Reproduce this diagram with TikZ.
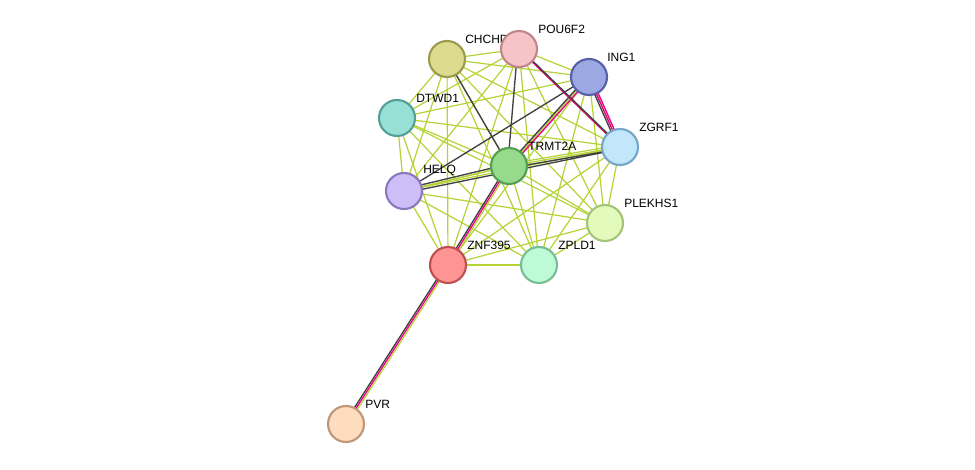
\documentclass[tikz,border=0pt]{standalone}
\usepackage{fontspec}
\setmainfont{Liberation Sans}
\begin{document}
\begin{tikzpicture}[x=0.75pt,y=-0.75pt,
  e/.style={draw=yl,line width=0.9pt},
  bk/.style={draw=black!75,line width=1pt},
  mg/.style={draw=magenta,line width=1pt},
  nd/.style={circle,minimum size=27pt,line width=1.6pt,inner sep=0pt},
  lb/.style={font=\fontsize{9}{10}\selectfont,anchor=south west,inner sep=0pt}]
\definecolor{yl}{HTML}{B5D334}
\useasboundingbox (0,0) rectangle (975,470);
\fill[white] (0,0) rectangle (975,470);
\coordinate (CH) at (447,59);
\coordinate (PO) at (519,49);
\coordinate (IN) at (589,77);
\coordinate (DT) at (397,118);
\coordinate (ZG) at (620,147);
\coordinate (TR) at (509,166);
\coordinate (HE) at (404,191);
\coordinate (PL) at (605,223);
\coordinate (ZN) at (448,265);
\coordinate (ZP) at (539,265);
\coordinate (PV) at (346,424);
% yellow-green edges
\foreach \a/\b in {CH/PO,CH/IN,CH/DT,CH/ZG,CH/TR,CH/HE,CH/PL,CH/ZN,CH/ZP,
PO/IN,PO/DT,PO/ZG,PO/HE,PO/PL,PO/ZN,PO/ZP,
IN/DT,IN/ZG,IN/TR,IN/PL,IN/ZP,IN/ZN,
DT/ZG,DT/TR,DT/HE,DT/PL,DT/ZN,DT/ZP,
ZG/TR,ZG/HE,ZG/PL,ZG/ZN,ZG/ZP,
TR/HE,TR/PL,TR/ZP,
HE/PL,HE/ZN,HE/ZP,
PL/ZN,PL/ZP,ZN/ZP}
  \draw[e] (\a) -- (\b);
% multi-evidence edges
\draw[bk] ([xshift=-1.5pt]ZN) -- ([xshift=-1.5pt]PV);
\draw[mg] (ZN) -- (PV);
\draw[e] ([xshift=1.5pt]ZN) -- ([xshift=1.5pt]PV);
\draw[bk] ([xshift=-1.5pt]TR) -- ([xshift=-1.5pt]ZN);
\draw[mg] (TR) -- (ZN);
\draw[e] ([xshift=1.5pt]TR) -- ([xshift=1.5pt]ZN);
\draw[bk] ([xshift=-1.5pt]IN) -- ([xshift=-1.5pt]TR);
\draw[mg] ([xshift=1.5pt]IN) -- ([xshift=1.5pt]TR);
\draw[bk] ([xshift=-1.5pt]IN) -- ([xshift=-1.5pt]ZG);
\draw[mg] (IN) -- (ZG);
\draw[mg] ([xshift=1.5pt]IN) -- ([xshift=1.5pt]ZG);
\draw[mg] (PO) -- (ZG);
\draw[bk] ([xshift=1pt]PO) -- ([xshift=1pt]ZG);
\draw[bk] (IN) -- (HE);
\draw[bk] (CH) -- (TR);
\draw[bk] ([xshift=-1pt]PO) -- ([xshift=-1pt]TR);
\draw[bk] ([yshift=-1.5pt]TR) -- ([yshift=-1.5pt]ZG);
\draw[e] ([yshift=1.5pt]TR) -- ([yshift=1.5pt]ZG);
\draw[bk] ([yshift=-1.5pt]HE) -- ([yshift=-1.5pt]ZG);
\draw[e] (HE) -- (TR);
\draw[bk] ([yshift=1.5pt]HE) -- ([yshift=1.5pt]TR);
% labels
\node[lb] at (465,44) {CHCHD4};
\node[lb] at (538,34) {POU6F2};
\node[lb] at (607,62) {ING1};
\node[lb] at (416,103) {DTWD1};
\node[lb] at (639,132) {ZGRF1};
\node[lb] at (528,151) {TRMT2A};
\node[lb] at (423,176) {HELQ};
\node[lb] at (624,208) {PLEKHS1};
\node[lb] at (467,250) {ZNF395};
\node[lb] at (558,250) {ZPLD1};
\node[lb] at (365,409) {PVR};
% nodes
\node[nd,fill={rgb,255:red,221;green,219;blue,141},draw={rgb,255:red,156;green,154;blue,80}] at (CH) {};
\node[nd,fill={rgb,255:red,246;green,196;blue,198},draw={rgb,255:red,192;green,134;blue,138}] at (PO) {};
\node[nd,fill={rgb,255:red,156;green,168;blue,226},draw={rgb,255:red,86;green,96;blue,168}] at (IN) {};
\node[nd,fill={rgb,255:red,152;green,224;blue,214},draw={rgb,255:red,84;green,160;blue,150}] at (DT) {};
\node[nd,fill={rgb,255:red,194;green,230;blue,250},draw={rgb,255:red,120;green,166;blue,200}] at (ZG) {};
\node[nd,fill={rgb,255:red,152;green,218;blue,140},draw={rgb,255:red,82;green,160;blue,82}] at (TR) {};
\node[nd,fill={rgb,255:red,206;green,190;blue,248},draw={rgb,255:red,140;green,120;blue,190}] at (HE) {};
\node[nd,fill={rgb,255:red,226;green,250;blue,188},draw={rgb,255:red,164;green,196;blue,120}] at (PL) {};
\node[nd,fill={rgb,255:red,254;green,148;blue,148},draw={rgb,255:red,190;green,80;blue,80}] at (ZN) {};
\node[nd,fill={rgb,255:red,190;green,250;blue,214},draw={rgb,255:red,120;green,190;blue,150}] at (ZP) {};
\node[nd,fill={rgb,255:red,254;green,220;blue,190},draw={rgb,255:red,190;green,150;blue,120}] at (PV) {};
\end{tikzpicture}
\end{document}
